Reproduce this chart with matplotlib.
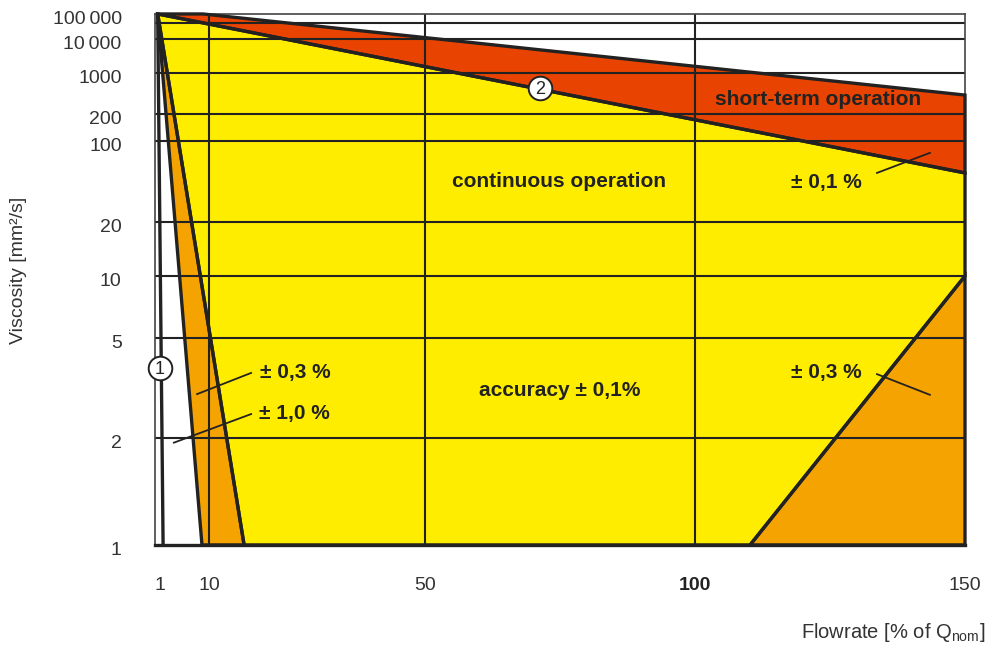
import matplotlib
matplotlib.use('Agg')
import matplotlib.pyplot as plt
import matplotlib.transforms as mtransforms
import numpy as np

# viscosity axis of the printed chart is squeezed at the top: value -> height in the plot
scale_vals = [1, 2, 5, 10, 20, 100, 200, 1000, 10000, 50000, 100000]
scale_pos = [0, 0.2015, 0.3898, 0.5066, 0.6083, 0.7608, 0.8117, 0.8889, 0.9529, 0.9831, 1.0]

y_ticks = [1, 2, 5, 10, 20, 100, 200, 1000, 10000, 100000]
y_labels = ['1', '2', '5', '10', '20', '100', '200', '1000', '10\u2009000', '100\u2009000']
y_grid = [2, 5, 10, 20, 100, 200, 1000, 10000, 50000]
x_ticks = [1, 10, 50, 100, 150]
x_labels = ['1', '10', '50', '100', '150']
x_grid = [10, 50, 100]

# regions: flowrate [% of Qnom], viscosity [mm2/s]
red_x = [0.5, 8.9, 150, 150]
red_y = [100000, 100000, 420, 53]
yellow_x = [0.5, 150, 150, 110.2, 16.5]
yellow_y = [100000, 53, 10, 1, 1]
band_x = [0.5, 8.7, 16.5]
band_y = [100000, 1, 1]
corner_x = [110.2, 150, 150]
corner_y = [1, 10, 1]
limit1_x = [0.5, 1.5]
limit1_y = [100000, 1]

YELLOW = '#ffed00'
ORANGE = '#f5a300'
RED = '#e84300'
INK = '#222222'

plt.rcParams['mathtext.fontset'] = 'custom'
plt.rcParams['mathtext.rm'] = 'Liberation Sans'

log_pos = np.log10(scale_vals)


def forward(v):
    v = np.clip(np.asarray(v, dtype=float), 1e-6, None)
    return np.interp(np.log10(v), log_pos, scale_pos)


def inverse(p):
    return 10 ** np.interp(p, scale_pos, log_pos)


fig = plt.figure(figsize=(10, 6.47), dpi=100)
ax = fig.add_axes([0.155, 0.1577, 0.81, 0.8207])
ax.set_yscale('function', functions=(forward, inverse))
ax.set_xlim(0, 150)
ax.set_ylim(1, 100000)

# fills first, grid over them, outlines on top
for xs, ys, col in [(red_x, red_y, RED), (yellow_x, yellow_y, YELLOW),
                    (band_x, band_y, ORANGE), (corner_x, corner_y, ORANGE)]:
    ax.fill(xs, ys, facecolor=col, edgecolor='none', zorder=1)

ax.hlines(y_grid, 0, 150, colors=INK, lw=1.5, zorder=2)
ax.vlines(x_grid, 1, 100000, colors=INK, lw=1.5, zorder=2)

for xs, ys in [(red_x, red_y), (yellow_x, yellow_y), (band_x, band_y), (corner_x, corner_y)]:
    ax.fill(xs, ys, fill=False, edgecolor=INK, lw=2.4, zorder=3, clip_on=False)
ax.plot(limit1_x, limit1_y, color=INK, lw=2.4, zorder=3, clip_on=False)

for side in ['left', 'top', 'right']:
    ax.spines[side].set_linewidth(1.2)
    ax.spines[side].set_color('#444444')
ax.spines['bottom'].set_linewidth(2.4)
ax.spines['bottom'].set_color(INK)

ax.set_xticks(x_ticks)
ax.set_xticklabels(x_labels, family='Liberation Sans', fontsize=14, color='#333333')
ax.get_xticklabels()[3].set_fontweight('bold')
ax.get_xticklabels()[3].set_color(INK)
ax.set_yticks(y_ticks)
ax.set_yticklabels(y_labels, family='Liberation Sans', fontsize=14, color='#333333')
ax.yaxis.set_minor_locator(matplotlib.ticker.NullLocator())
ax.tick_params(axis='x', length=0, pad=23)
ax.tick_params(axis='y', length=0, pad=24)
shift = mtransforms.ScaledTranslation(0, -0.04, fig.dpi_scale_trans)
for lbl in ax.get_yticklabels():
    lbl.set_transform(lbl.get_transform() + shift)

ax.set_ylabel('Viscosity [mm²/s]', family='Liberation Sans', fontsize=14, color='#333333',
              va='center')
ax.yaxis.set_label_coords(-0.169, 0.518)

ax.set_xlabel('Flowrate [% of Q$_\\mathrm{nom}$]', family='Liberation Sans',
              fontsize=14.5, color='#333333', ha='right', va='center')
ax.xaxis.set_label_coords(1.0247, -0.1657)

bold = dict(family='Liberation Sans', fontweight='bold', fontsize=15, color=INK, zorder=5)
ax.text(122.8, 347, 'short-term operation', ha='center', va='center', **bold)
ax.text(74.8, 45, 'continuous operation', ha='center', va='center', **bold)
ax.text(75, 3.1, 'accuracy ± 0,1%', ha='center', va='center', **bold)

# labels with leader lines
leaders = [('± 0,1 %', (124.4, 43.4), (133.7, 53), (143.5, 79)),
           ('± 0,3 %', (124.4, 3.63), (133.7, 3.59), (143.5, 2.97)),
           ('± 0,3 %', (25.9, 3.63), (17.8, 3.63), (7.8, 2.99)),
           ('± 1,0 %', (25.9, 2.51), (17.8, 2.49), (3.5, 1.94))]
for txt, pos, p0, p1 in leaders:
    ax.text(pos[0], pos[1], txt, ha='center', va='center', **bold)
    ax.plot([p0[0], p1[0]], [p0[1], p1[1]], color=INK, lw=1.3, zorder=4)

for num, (cx, cy) in [('1', (0.9, 3.8)), ('2', (71.3, 555))]:
    ax.plot(cx, cy, 'o', ms=17, mfc='white', mec=INK, mew=1.4, zorder=6, clip_on=False)
    ax.text(cx, cy, num, ha='center', va='center_baseline', family='Liberation Sans',
            fontsize=13, color=INK, zorder=7)

fig.savefig('out.png', dpi=100)
